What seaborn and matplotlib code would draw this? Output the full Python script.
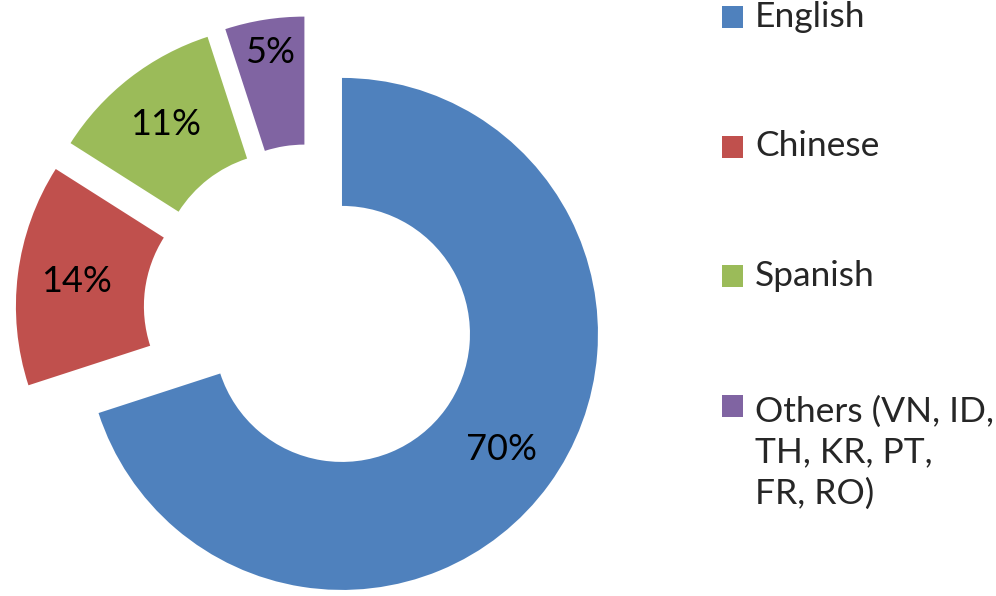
import matplotlib
matplotlib.use('Agg')
import matplotlib.pyplot as plt
from matplotlib.patches import Rectangle
import numpy as np
import seaborn as sns

# Chart data
languages = ['English', 'Chinese', 'Spanish', 'Others (VN, ID,\nTH, KR, PT,\nFR, RO)']
shares = [70, 14, 11, 5]
colors = sns.color_palette(['#4F81BD', '#C0504D', '#9BBB59', '#8064A2'])

sns.set_style('white')
plt.rcParams['font.family'] = ['Lato', 'DejaVu Sans']

W, H = 996, 596
fig = plt.figure(figsize=(W / 100, H / 100), dpi=100)
ax = fig.add_axes([0, 0, 1, 1])

wedges, texts, autotexts = ax.pie(
    shares, colors=colors, startangle=90, counterclock=False,
    explode=[0.152] * len(shares), radius=1,
    wedgeprops=dict(width=0.5, linewidth=0),
    autopct=lambda p: f'{p:.0f}%', pctdistance=0.77,
    textprops=dict(fontsize=26, color='black'))

# small slice label sits further out, as in the original
w = wedges[-1]
mid = np.deg2rad((w.theta1 + w.theta2) / 2)
cx, cy = w.center
autotexts[-1].set_position((cx + 0.87 * np.cos(mid), cy + 0.87 * np.sin(mid)))

ax.set_aspect('equal', adjustable='datalim')
ax.set_xlim(-1.213, 2.678)
ax.set_ylim(-1.113, 1.215)
ax.axis('off')

# legend drawn by hand so the marker sits on the first line of the long label
leg_fs = 25.5
line_px = 47
for i, (lab, col) in enumerate(zip(languages, colors)):
    y_first = 17 + 129.5 * i  # pixel centre of the first text line, from top
    fig.add_artist(Rectangle((722 / W, 1 - (y_first + 11) / H), 21 / W, 22 / H,
                             transform=fig.transFigure, facecolor=col, edgecolor='none'))
    n = lab.count('\n')
    yc = y_first + n * line_px / 2
    fig.text(755 / W, 1 - yc / H, lab, fontsize=leg_fs, va='center', ha='left',
             linespacing=1.33)

fig.savefig('out.png', dpi=100)
